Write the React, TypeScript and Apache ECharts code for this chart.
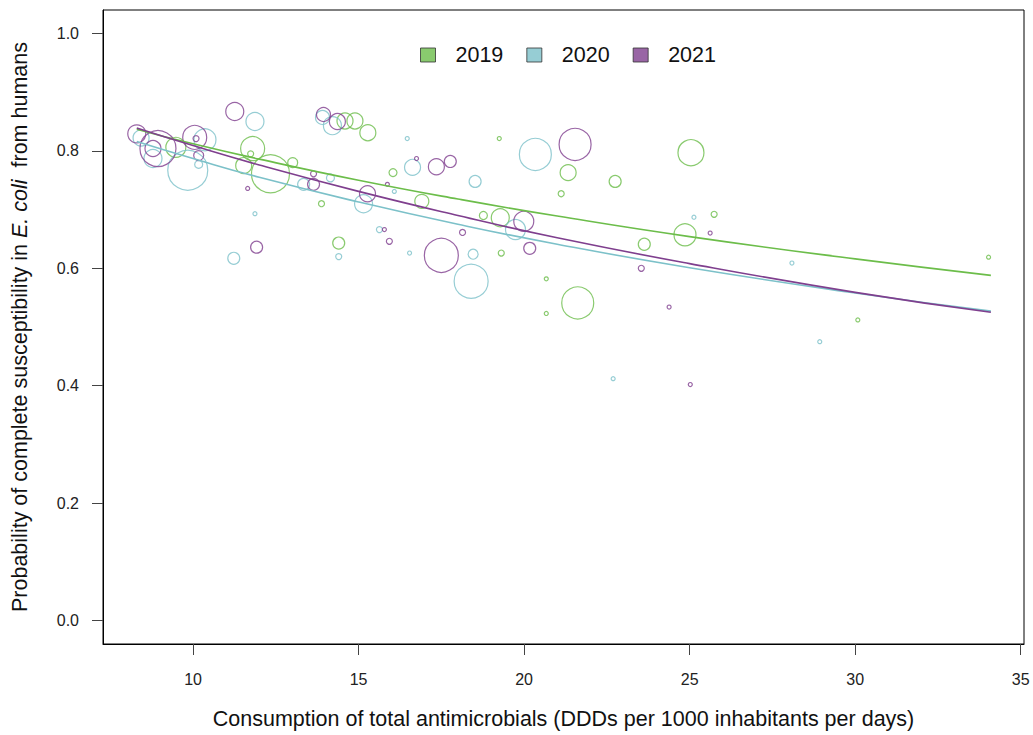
import React, { useEffect, useRef } from "react";
import * as echarts from "echarts";

// ---- data ----
const years = ["2019", "2020", "2021"];

// [consumption (DDD/1000 inh./day), probability of complete susceptibility, relative bubble weight]
const points2019: number[][] = [
  [9.48, 0.806, 10], [11.8, 0.804, 12], [11.53, 0.775, 8], [11.74, 0.795, 3],
  [12.34, 0.761, 19], [13.01, 0.78, 5], [14.59, 0.851, 8], [14.89, 0.851, 8],
  [15.28, 0.831, 8], [16.04, 0.763, 4], [16.91, 0.714, 7], [13.88, 0.71, 3],
  [14.4, 0.643, 6], [19.25, 0.821, 2], [21.33, 0.763, 8], [22.75, 0.748, 6],
  [21.12, 0.727, 3], [18.77, 0.69, 4], [19.28, 0.686, 9], [19.31, 0.626, 3],
  [23.63, 0.641, 6], [20.67, 0.582, 2], [21.62, 0.541, 16], [20.67, 0.523, 2],
  [25.04, 0.797, 13], [25.74, 0.692, 3], [24.86, 0.657, 11], [34.03, 0.619, 2],
  [30.08, 0.512, 2],
];

const points2020: number[][] = [
  [11.87, 0.85, 9], [8.43, 0.822, 8], [9.84, 0.767, 20], [8.79, 0.787, 9],
  [10.36, 0.819, 11], [10.17, 0.777, 4], [11.87, 0.693, 2], [11.23, 0.617, 6],
  [13.34, 0.743, 6], [13.91, 0.857, 7], [14.21, 0.843, 9], [16.47, 0.821, 2],
  [14.15, 0.754, 4], [16.63, 0.772, 8], [15.15, 0.71, 9], [16.08, 0.731, 2],
  [15.63, 0.666, 3], [16.54, 0.626, 2], [14.4, 0.62, 3], [18.52, 0.748, 6],
  [18.46, 0.624, 5], [18.4, 0.578, 17], [20.34, 0.794, 16], [19.74, 0.666, 10],
  [25.13, 0.687, 2], [28.09, 0.609, 2], [28.93, 0.475, 2], [22.69, 0.412, 2],
];

const points2021: number[][] = [
  [11.26, 0.867, 9], [8.3, 0.829, 9], [8.94, 0.804, 18], [8.79, 0.804, 8],
  [10.05, 0.823, 12], [10.09, 0.821, 3], [10.17, 0.792, 5], [11.65, 0.736, 2],
  [11.92, 0.636, 6], [13.94, 0.862, 7], [14.36, 0.85, 8], [13.64, 0.761, 3],
  [13.64, 0.743, 6], [15.27, 0.727, 8], [16.75, 0.787, 2], [17.35, 0.773, 8],
  [17.77, 0.782, 6], [15.87, 0.743, 2], [15.78, 0.666, 2], [15.93, 0.646, 3],
  [17.5, 0.622, 17], [18.14, 0.661, 3], [21.54, 0.811, 16], [19.99, 0.68, 10],
  [20.17, 0.634, 6], [23.54, 0.6, 3], [25.62, 0.66, 2], [24.38, 0.534, 2],
  [25.02, 0.402, 2],
];

// fitted trend curves
const trendX = [8.3, 10, 12, 15, 18, 21, 25, 30, 34.1];
const trend2019 = [0.837, 0.812, 0.786, 0.75, 0.718, 0.689, 0.654, 0.616, 0.588];
const trend2020 = [0.816, 0.787, 0.755, 0.713, 0.675, 0.641, 0.601, 0.558, 0.527];
const trend2021 = [0.839, 0.809, 0.776, 0.731, 0.69, 0.652, 0.608, 0.559, 0.525];

const xTicks = [10, 15, 20, 25, 30, 35];
const yTicks = [0, 0.2, 0.4, 0.6, 0.8, 1.0];

const xTitle = "Consumption of total antimicrobials (DDDs per 1000 inhabitants per days)";
const yTitle = "Probability of complete susceptibility in {i|E. coli}  from humans";

const colors = ["#6cbd4a", "#7cc1c9", "#7f3f8e"];
const FONT = "'Liberation Sans', Arial, Helvetica, sans-serif";

export default function App() {
  const ref = useRef<HTMLDivElement>(null);

  useEffect(() => {
    if (!ref.current) return;
    const chart = echarts.init(ref.current, null, { renderer: "svg" });
    const pts = [points2019, points2020, points2021];
    const trends = [trend2019, trend2020, trend2021];

    const scatterSeries = years.map((y, i) => ({
      name: y,
      type: "scatter",
      data: pts[i],
      symbol: "circle",
      symbolSize: (v: number[]) => v[2] * 2,
      itemStyle: { color: "rgba(0,0,0,0)", borderColor: colors[i], borderWidth: 1.2 },
      silent: true,
      z: 2,
    }));
    const lineSeries = years.map((y, i) => ({
      name: "trend " + y,
      type: "line",
      data: trendX.map((x, k) => [x, trends[i][k]]),
      smooth: true,
      showSymbol: false,
      lineStyle: { color: colors[i], width: 1.6 },
      silent: true,
      z: 3,
    }));

    chart.setOption({
      animation: false,
      textStyle: { fontFamily: FONT },
      grid: { left: 103, right: 9, top: 10, bottom: 90, show: true, borderColor: "#000", borderWidth: 1 },
      legend: {
        data: years.map((y, i) => ({
          name: y,
          icon: "rect",
          itemStyle: { color: colors[i], borderColor: "#333", borderWidth: 1 },
        })),
        left: 415,
        top: 39,
        itemWidth: 15,
        itemHeight: 14,
        itemGap: 23,
        selectedMode: false,
        textStyle: { fontSize: 21.5, color: "#111", fontFamily: FONT, padding: [0, 0, 0, 15] },
      },
      xAxis: {
        type: "value",
        min: 7.28,
        max: 35.1,
        axisLine: { show: true, onZero: false, lineStyle: { color: "#000", width: 1 } },
        axisTick: { show: true, length: 11, customValues: xTicks, lineStyle: { color: "#444" } },
        axisLabel: { customValues: xTicks, fontSize: 16, margin: 27, color: "#222", fontFamily: FONT },
        splitLine: { show: false },
        name: xTitle,
        nameLocation: "middle",
        nameGap: 64,
        nameTextStyle: { fontSize: 21.5, color: "#111", fontFamily: FONT },
      },
      yAxis: {
        type: "value",
        min: -0.04,
        max: 1.04,
        axisLine: { show: true, onZero: false, lineStyle: { color: "#000", width: 1 } },
        axisTick: { show: true, length: 11, customValues: yTicks, lineStyle: { color: "#444" } },
        axisLabel: {
          customValues: yTicks,
          fontSize: 16,
          margin: 24,
          color: "#222",
          fontFamily: FONT,
          formatter: (v: number) => v.toFixed(1),
        },
        splitLine: { show: false },
        name: yTitle,
        nameLocation: "middle",
        nameGap: 72,
        nameTextStyle: {
          fontSize: 21.5,
          color: "#111",
          fontFamily: FONT,
          rich: { i: { fontStyle: "italic", fontSize: 21.5, color: "#111", fontFamily: FONT } },
        },
      },
      series: [...scatterSeries, ...lineSeries],
    });
    return () => chart.dispose();
  }, []);

  return (
    <div
      ref={ref}
      style={{ position: "fixed", left: 0, top: 0, width: 1033, height: 735, background: "#fff" }}
    />
  );
}
